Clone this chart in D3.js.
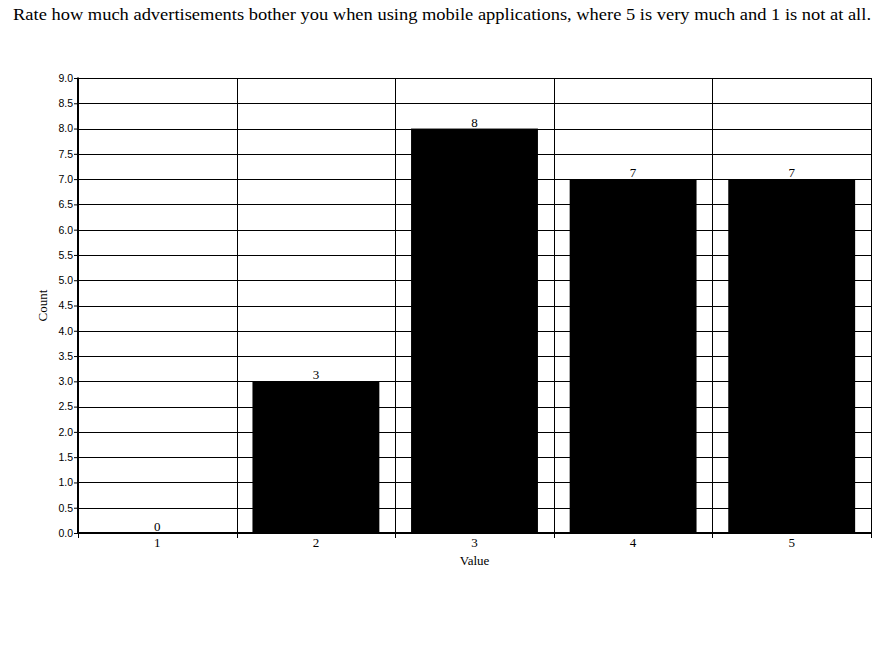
<!DOCTYPE html>
<html>
<head>
<meta charset="utf-8">
<script src="https://cdn.jsdelivr.net/npm/d3@7"></script>
<style>
body { margin: 0; background: #fff; }
svg { display: block; }
</style>
</head>
<body>
<svg id="chart" width="884" height="650"></svg>
<script>
const titleText = "Rate how much advertisements bother you when using mobile applications, where 5 is very much and 1 is not at all.";
const categories = ["1", "2", "3", "4", "5"];
const counts = [0, 3, 8, 7, 7];
const yTicks = [0, 0.5, 1, 1.5, 2, 2.5, 3, 3.5, 4, 4.5, 5, 5.5, 6, 6.5, 7, 7.5, 8, 8.5, 9];
const xTitle = "Value";
const yTitle = "Count";

const svg = d3.select("#chart");
const margin = { left: 78, right: 13, top: 78, bottom: 117 };
const W = 884, H = 650;
const x0 = margin.left, x1 = W - margin.right, y0 = H - margin.bottom, y1 = margin.top;

const xOuter = d3.scaleBand().domain(categories).range([x0, x1]).padding(0);
const x = d3.scaleBand().domain(categories).range([x0, x1]).paddingInner(0.2).paddingOuter(0.1);
const y = d3.scaleLinear().domain([0, 9]).range([y0, y1]);

const serif = "'Liberation Serif', 'Times New Roman', serif";
const sans = "'Liberation Sans Narrow', 'Liberation Sans', Arial, sans-serif";

// title
svg.append("text")
  .attr("x", 442).attr("y", 20)
  .attr("text-anchor", "middle")
  .attr("textLength", 858).attr("lengthAdjust", "spacingAndGlyphs")
  .style("font-family", serif).style("font-size", "17.5px")
  .text(titleText);

// horizontal gridlines
svg.append("g").selectAll("line").data(yTicks.filter(d => d > 0)).join("line")
  .attr("x1", x0).attr("x2", x1)
  .attr("y1", d => Math.round(y(d)) + 0.5).attr("y2", d => Math.round(y(d)) + 0.5)
  .attr("stroke", "#000").attr("stroke-width", 1);

// vertical gridlines at category boundaries
const bounds = categories.slice(1).map(c => xOuter(c)).concat([x1]);
svg.append("g").selectAll("line").data(bounds).join("line")
  .attr("x1", d => Math.round(d) + 0.5).attr("x2", d => Math.round(d) + 0.5)
  .attr("y1", y1).attr("y2", y0)
  .attr("stroke", "#000").attr("stroke-width", 1);

// bars
svg.append("g").selectAll("rect").data(counts).join("rect")
  .attr("x", (d, i) => x(categories[i]))
  .attr("width", x.bandwidth())
  .attr("y", d => y(d))
  .attr("height", d => y0 - y(d))
  .attr("fill", "#000");

// value labels
svg.append("g").selectAll("text").data(counts).join("text")
  .attr("x", (d, i) => x(categories[i]) + x.bandwidth() / 2)
  .attr("y", d => y(d) - 2)
  .attr("text-anchor", "middle")
  .style("font-family", serif).style("font-size", "13px")
  .text(d => d);

// y axis
const yAxis = d3.axisLeft(y).tickValues(yTicks).tickFormat(d3.format(".1f")).tickSize(4).tickPadding(1);
const gy = svg.append("g").attr("transform", `translate(${x0},0)`).call(yAxis);
gy.select(".domain").remove();
gy.selectAll(".tick line").attr("stroke", "#000");
gy.selectAll(".tick text").style("font-family", sans).style("font-size", "10.5px").attr("fill", "#000");
svg.append("line").attr("x1", x0).attr("x2", x0).attr("y1", y1 - 0.5).attr("y2", y0 + 1)
  .attr("stroke", "#000").attr("stroke-width", 2);

// x axis
const xAxis = d3.axisBottom(xOuter).tickSize(0).tickPadding(5);
const gx = svg.append("g").attr("transform", `translate(0,${y0})`).call(xAxis);
gx.select(".domain").remove();
gx.selectAll(".tick text").style("font-family", serif).style("font-size", "13px").attr("fill", "#000");
svg.append("g").selectAll("line").data([x0].concat(bounds)).join("line")
  .attr("x1", d => Math.round(d) + 0.5).attr("x2", d => Math.round(d) + 0.5)
  .attr("y1", y0).attr("y2", y0 + 5)
  .attr("stroke", "#000");
svg.append("line").attr("x1", x0).attr("x2", x1 + 1).attr("y1", y0).attr("y2", y0)
  .attr("stroke", "#000").attr("stroke-width", 2);

// axis titles
svg.append("text")
  .attr("x", (x0 + x1) / 2).attr("y", y0 + 32)
  .attr("text-anchor", "middle")
  .style("font-family", serif).style("font-size", "13px")
  .text(xTitle);
svg.append("text")
  .attr("transform", `translate(47,${(y0 + y1) / 2}) rotate(-90)`)
  .attr("text-anchor", "middle")
  .style("font-family", serif).style("font-size", "13px")
  .text(yTitle);
</script>
</body>
</html>
